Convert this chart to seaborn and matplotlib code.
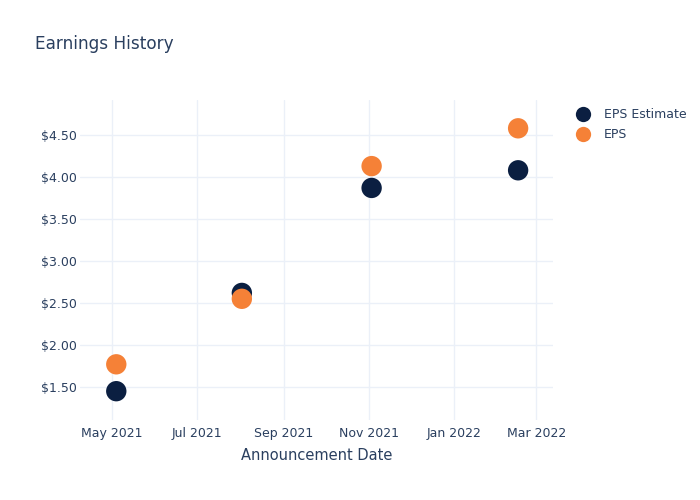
import pandas as pd
import matplotlib
matplotlib.use("Agg")
import matplotlib.pyplot as plt
import matplotlib.dates as mdates
from matplotlib.ticker import FuncFormatter, MultipleLocator
import seaborn as sns

# data
dates = ["2021-05-04", "2021-08-02", "2021-11-03", "2022-02-16"]
eps_estimate = [1.45, 2.62, 3.87, 4.08]
eps_actual = [1.77, 2.55, 4.13, 4.58]
series_names = ["EPS Estimate", "EPS"]
series_colors = ["#0b1f41", "#f58137"]

TEXT = "#2a3f5f"
GRID = "#ebf0f8"

df = pd.DataFrame({
    "date": pd.to_datetime(dates * 2),
    "value": eps_estimate + eps_actual,
    "series": [series_names[0]] * len(dates) + [series_names[1]] * len(dates),
})

sns.set_style("white")
plt.rcParams["font.family"] = ["DejaVu Sans"]

fig = plt.figure(figsize=(7, 5), dpi=100)
ax = fig.add_axes([80 / 700, 80 / 500, 473 / 700, 320 / 500])

sns.scatterplot(
    data=df, x="date", y="value", hue="series",
    palette=dict(zip(series_names, series_colors)),
    s=215, linewidth=0, ax=ax, legend=False, zorder=3,
)

ax.set_xlim(pd.Timestamp("2021-04-08"), pd.Timestamp("2022-03-13"))
ax.set_ylim(1.107, 4.917)

ax.xaxis.set_major_locator(mdates.MonthLocator(bymonth=[1, 3, 5, 7, 9, 11]))
ax.xaxis.set_major_formatter(mdates.DateFormatter("%b %Y"))
ax.yaxis.set_major_locator(MultipleLocator(0.5))
ax.yaxis.set_major_formatter(FuncFormatter(lambda v, p: f"${v:.2f}"))

ax.grid(True, color=GRID, linewidth=1)
ax.set_axisbelow(True)
for sp in ax.spines.values():
    sp.set_visible(False)
ax.tick_params(length=0, labelsize=9, labelcolor=TEXT)
ax.tick_params(axis="y", pad=2)
ax.tick_params(axis="x", pad=5)

ax.set_xlabel("Announcement Date", fontsize=10.5, color=TEXT, labelpad=6)
ax.set_ylabel("")

fig.text(35 / 700, 1 - 44 / 500, "Earnings History", fontsize=12.2,
         color=TEXT, va="center", ha="left")

# legend
handles = [plt.Line2D([], [], marker="o", linestyle="", markersize=11,
                      markerfacecolor=c, markeredgewidth=0) for c in series_colors]
leg = fig.legend(handles, series_names, loc="upper left",
                 bbox_to_anchor=(569 / 700, 1 - 103 / 500), frameon=False,
                 fontsize=9, handletextpad=0.9, labelspacing=0.6,
                 handlelength=1.5, borderaxespad=0)
for t in leg.get_texts():
    t.set_color(TEXT)

fig.savefig("out.png", dpi=100)
